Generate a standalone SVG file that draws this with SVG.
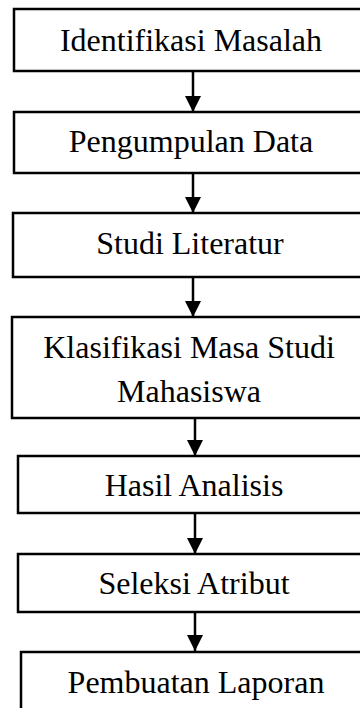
<svg xmlns="http://www.w3.org/2000/svg" width="360" height="708" viewBox="0 0 360 708">
<defs>
<style>
.box{fill:#fff;stroke:#000;stroke-width:2.5}
.lbl{font-family:"Liberation Serif","Times New Roman",serif;font-size:32px;fill:#000;text-anchor:middle}
.con{stroke:#000;stroke-width:2.5;fill:none}
</style>
<marker id="ah" markerUnits="userSpaceOnUse" markerWidth="16" markerHeight="16" viewBox="0 0 16 16" refX="16" refY="8" orient="auto">
<path d="M0,0 L16,8 L0,16 Z" fill="#000"/>
</marker>
</defs>
<rect width="360" height="708" fill="#fff"/>
<g id="n1"><rect class="box" x="14" y="9" width="370" height="62"/><text class="lbl" x="191" y="51">Identifikasi Masalah</text></g>
<g id="n2"><rect class="box" x="14" y="112" width="370" height="61"/><text class="lbl" x="191" y="152">Pengumpulan Data</text></g>
<g id="n3"><rect class="box" x="13" y="213" width="370" height="64"/><text class="lbl" x="190" y="254">Studi Literatur</text></g>
<g id="n4"><rect class="box" x="12" y="317" width="370" height="101"/><text class="lbl" x="189" y="358">Klasifikasi Masa Studi</text><text class="lbl" x="189" y="402">Mahasiswa</text></g>
<g id="n5"><rect class="box" x="18" y="456" width="370" height="57"/><text class="lbl" x="194" y="496">Hasil Analisis</text></g>
<g id="n6"><rect class="box" x="18" y="554" width="370" height="58"/><text class="lbl" x="194" y="594">Seleksi Atribut</text></g>
<g id="n7"><rect class="box" x="21" y="652" width="370" height="80"/><text class="lbl" x="196" y="693">Pembuatan Laporan</text></g>
<g id="connectors">
<line class="con" x1="193" y1="71" x2="193" y2="112" marker-end="url(#ah)"/>
<line class="con" x1="193" y1="173" x2="193" y2="213" marker-end="url(#ah)"/>
<line class="con" x1="193" y1="277" x2="193" y2="317" marker-end="url(#ah)"/>
<line class="con" x1="195" y1="418" x2="195" y2="456" marker-end="url(#ah)"/>
<line class="con" x1="195" y1="513" x2="195" y2="554" marker-end="url(#ah)"/>
<line class="con" x1="195" y1="612" x2="195" y2="651" marker-end="url(#ah)"/>
</g>
</svg>
